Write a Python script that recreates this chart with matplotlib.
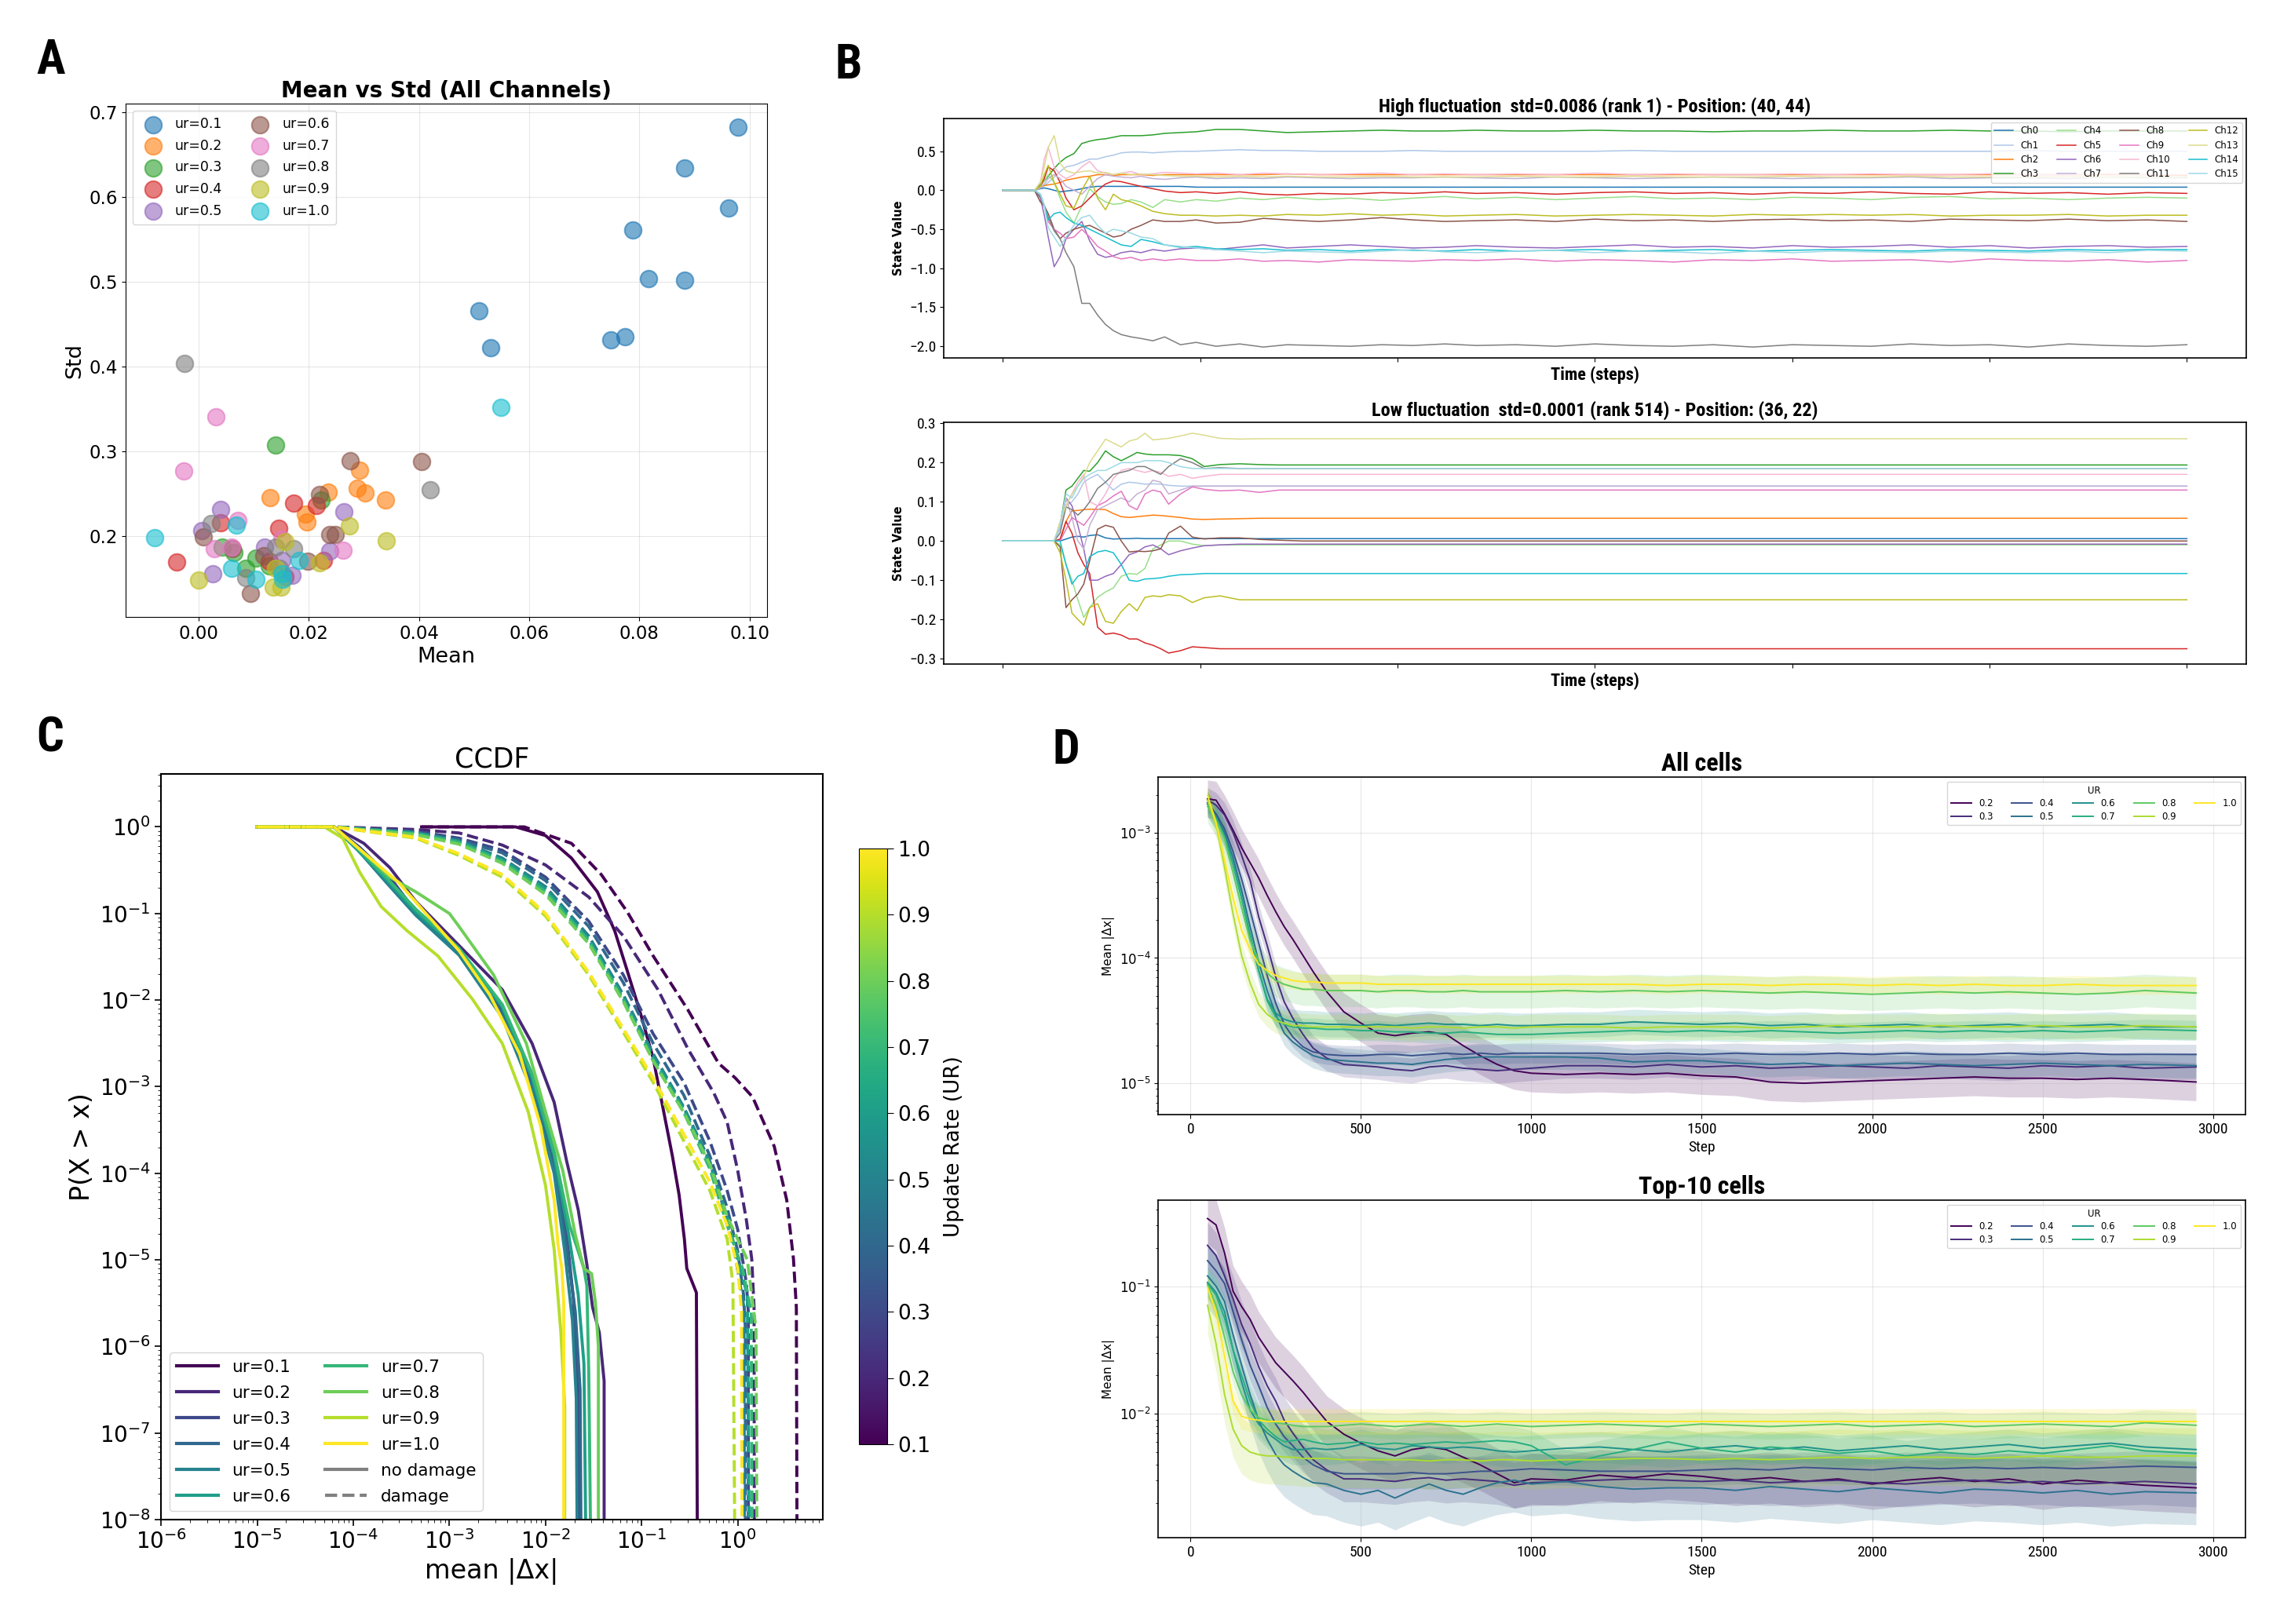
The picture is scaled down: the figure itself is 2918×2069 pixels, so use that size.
import numpy as np
import matplotlib
matplotlib.use("Agg")
import matplotlib.pyplot as plt
from matplotlib import font_manager
from matplotlib.colors import Normalize
from matplotlib.cm import ScalarMappable
from matplotlib.lines import Line2D

# pick a narrow face that also has a bold cut (panels B and D use squeezed type)
def _wt(w):
    if isinstance(w, (int, float)):
        return int(w)
    return font_manager.weight_dict.get(str(w).lower(), 400)

_weights = {}
for f in font_manager.fontManager.ttflist:
    if "Narrow" in f.name or "Condensed" in f.name:
        _weights.setdefault(f.name, set()).add(_wt(f.weight))
_ok = [n for n, w in _weights.items() if max(w) >= 700 and min(w) <= 500]
_pref = ["Liberation Sans Narrow", "DejaVu Sans Condensed", "Roboto Condensed",
         "Open Sans Condensed", "Noto Sans Condensed"]
_ok.sort(key=lambda n: (_pref.index(n) if n in _pref else 99, n))
NARROW = _ok[0] if _ok else "DejaVu Sans"
HAVE_NARROW = bool(_ok)
NFAM = [NARROW, "DejaVu Sans"]

# ---------------- panel A : mean vs std per channel ----------------
SC_LABELS = ["ur=0.1", "ur=0.2", "ur=0.3", "ur=0.4", "ur=0.5",
             "ur=0.6", "ur=0.7", "ur=0.8", "ur=0.9", "ur=1.0"]
SC_MEAN = [
    [0.0979, 0.0883, 0.0962, 0.0788, 0.0817, 0.0882, 0.0509, 0.0530, 0.0748, 0.0774],
    [0.0292, 0.0288, 0.0302, 0.0339, 0.0235, 0.0130, 0.0194, 0.0197],
    [0.0139, 0.0222, 0.0043, 0.0064, 0.0104, 0.0085, 0.0128],
    [0.0173, 0.0213, 0.0040, 0.0145, -0.0040, 0.0227, 0.0156, 0.0128],
    [0.0039, 0.0264, 0.0005, 0.0025, 0.0120, 0.0238, 0.0170, 0.0151],
    [0.0275, 0.0404, 0.0220, 0.0238, 0.0248, 0.0009, 0.0061, 0.0118, 0.0094, 0.0198],
    [0.0031, -0.0028, 0.0262, 0.0071, 0.0028, 0.0059, 0.0151],
    [-0.0026, 0.0421, 0.0023, 0.0172, 0.0139, 0.0085, 0.0146],
    [0.0274, 0.0340, 0.0000, 0.0156, 0.0219, 0.0135, 0.0150, 0.0139],
    [0.0549, -0.0080, 0.0068, 0.0060, 0.0182, 0.0104, 0.0151, 0.0153],
]
SC_STD = [
    [0.683, 0.635, 0.587, 0.561, 0.504, 0.502, 0.466, 0.422, 0.432, 0.435],
    [0.278, 0.256, 0.251, 0.243, 0.252, 0.245, 0.226, 0.217],
    [0.307, 0.243, 0.187, 0.180, 0.174, 0.162, 0.165],
    [0.239, 0.236, 0.216, 0.209, 0.169, 0.171, 0.152, 0.170],
    [0.231, 0.229, 0.206, 0.155, 0.187, 0.182, 0.154, 0.171],
    [0.289, 0.288, 0.249, 0.202, 0.202, 0.199, 0.185, 0.177, 0.132, 0.170],
    [0.341, 0.277, 0.183, 0.218, 0.185, 0.187, 0.196],
    [0.404, 0.255, 0.215, 0.185, 0.187, 0.151, 0.162],
    [0.212, 0.194, 0.148, 0.193, 0.168, 0.140, 0.140, 0.162],
    [0.352, 0.198, 0.213, 0.162, 0.171, 0.149, 0.155, 0.149],
]

# ---------------- panel B : channel traces ----------------
CH_NAMES = ["Ch%d" % i for i in range(16)]
CH_COLORS = ["#1f77b4", "#aec7e8", "#ff7f0e", "#2ca02c", "#98df8a", "#d62728",
             "#9467bd", "#c5b0d5", "#8c564b", "#e377c2", "#f7b6d2", "#7f7f7f",
             "#bcbd22", "#dbdb8d", "#17becf", "#9edae5"]

T_HI = [0, 80, 95, 105, 115, 130, 145, 160, 180, 200,
        220, 240, 260, 280, 300, 325, 350, 380, 410, 450,
        490, 540, 600, 660, 720, 800, 880, 960, 1040, 1120,
        1200, 1300, 1400, 1500, 1600, 1700, 1800, 1900, 2000, 2100,
        2200, 2300, 2400, 2500, 2600, 2700, 2800, 2900, 3000]
HI_VALUES = [
    [0, 0, 0.02, 0.03, 0.02, 0.0, -0.02, -0.01, 0.0, 0.02,
     0.04, 0.05, 0.05, 0.05, 0.05, 0.05, 0.05, 0.05, 0.05, 0.05,
     0.04, 0.04, 0.04, 0.04, 0.04, 0.04, 0.04, 0.04, 0.04, 0.04,
     0.04, 0.04, 0.04, 0.04, 0.04, 0.04, 0.04, 0.04, 0.04, 0.04,
     0.04, 0.04, 0.04, 0.04, 0.04, 0.04, 0.04, 0.04, 0.04],
    [0, 0, 0.03, 0.06, 0.1, 0.17, 0.24, 0.3, 0.32, 0.36,
     0.4, 0.4, 0.43, 0.45, 0.48, 0.49, 0.49, 0.48, 0.49, 0.5,
     0.5, 0.51, 0.52, 0.51, 0.51, 0.5, 0.5, 0.5, 0.51, 0.5,
     0.5, 0.5, 0.5, 0.5, 0.51, 0.5, 0.5, 0.5, 0.5, 0.5,
     0.5, 0.5, 0.5, 0.5, 0.51, 0.5, 0.5, 0.5, 0.5],
    [0, 0, 0.04, 0.06, 0.07, 0.08, 0.1, 0.13, 0.15, 0.17,
     0.18, 0.2, 0.2, 0.19, 0.2, 0.2, 0.2, 0.19, 0.2, 0.2,
     0.2, 0.2, 0.2, 0.2, 0.21, 0.2, 0.2, 0.2, 0.2, 0.2,
     0.2, 0.2, 0.2, 0.2, 0.2, 0.2, 0.2, 0.2, 0.2, 0.2,
     0.2, 0.2, 0.2, 0.2, 0.2, 0.2, 0.2, 0.2, 0.19],
    [0, 0, 0.08, 0.12, 0.18, 0.28, 0.36, 0.42, 0.47, 0.6,
     0.63, 0.65, 0.66, 0.68, 0.70, 0.70, 0.70, 0.71, 0.73, 0.74,
     0.75, 0.78, 0.78, 0.76, 0.74, 0.75, 0.76, 0.77, 0.76, 0.76,
     0.77, 0.76, 0.76, 0.77, 0.76, 0.76, 0.75, 0.76, 0.76, 0.77,
     0.76, 0.76, 0.77, 0.76, 0.76, 0.75, 0.76, 0.76, 0.76],
    [0, 0, 0.05, 0.12, 0.2, 0.1, -0.1, -0.28, -0.42, -0.2,
     0.02, -0.08, -0.15, -0.18, -0.17, -0.12, -0.15, -0.22, -0.12, -0.15,
     -0.12, -0.14, -0.1, -0.12, -0.09, -0.12, -0.1, -0.13, -0.1, -0.08,
     -0.11, -0.09, -0.12, -0.1, -0.08, -0.11, -0.1, -0.12, -0.09, -0.1,
     -0.12, -0.09, -0.08, -0.11, -0.1, -0.12, -0.1, -0.09, -0.1],
    [0, 0, 0.05, 0.15, 0.3, 0.25, 0.1, -0.1, -0.25, -0.2,
     -0.1, 0.0, 0.08, 0.12, 0.11, 0.08, 0.05, 0.02, -0.01, -0.03,
     -0.02, -0.04, -0.02, -0.05, -0.06, -0.04, -0.05, -0.03, -0.04, -0.02,
     -0.04, -0.03, -0.05, -0.03, -0.02, -0.04, -0.03, -0.05, -0.03, -0.04,
     -0.02, -0.04, -0.05, -0.02, -0.04, -0.03, -0.05, -0.03, -0.04],
    [0, 0, -0.1, -0.32, -0.6, -0.98, -0.85, -0.62, -0.5, -0.4,
     -0.65, -0.82, -0.86, -0.84, -0.8, -0.78, -0.8, -0.76, -0.78, -0.75,
     -0.74, -0.76, -0.73, -0.7, -0.74, -0.72, -0.7, -0.72, -0.74, -0.73,
     -0.71, -0.73, -0.74, -0.72, -0.7, -0.73, -0.72, -0.74, -0.71, -0.73,
     -0.72, -0.7, -0.73, -0.71, -0.74, -0.72, -0.71, -0.73, -0.72],
    [0, 0, 0.03, 0.08, 0.15, 0.2, 0.15, 0.05, 0.0, -0.05,
     0.05, 0.15, 0.2, 0.18, 0.17, 0.16, 0.18, 0.15, 0.14, 0.16,
     0.17, 0.15, 0.16, 0.15, 0.17, 0.16, 0.15, 0.16, 0.16, 0.17,
     0.16, 0.15, 0.17, 0.16, 0.15, 0.16, 0.17, 0.16, 0.15, 0.16,
     0.16, 0.17, 0.15, 0.16, 0.16, 0.15, 0.17, 0.16, 0.16],
    [0, 0, -0.15, -0.2, -0.3, -0.5, -0.62, -0.55, -0.5, -0.47,
     -0.45, -0.5, -0.55, -0.6, -0.58, -0.5, -0.45, -0.38, -0.4, -0.4,
     -0.38, -0.42, -0.41, -0.36, -0.38, -0.4, -0.38, -0.35, -0.38, -0.4,
     -0.39, -0.38, -0.4, -0.37, -0.39, -0.38, -0.4, -0.38, -0.37, -0.39,
     -0.38, -0.4, -0.37, -0.38, -0.39, -0.37, -0.39, -0.38, -0.4],
    [0, 0, -0.05, -0.2, -0.4, -0.5, -0.55, -0.62, -0.6, -0.5,
     -0.6, -0.72, -0.78, -0.85, -0.88, -0.86, -0.9, -0.88, -0.9, -0.88,
     -0.9, -0.9, -0.88, -0.91, -0.9, -0.92, -0.89, -0.9, -0.91, -0.89,
     -0.9, -0.88, -0.91, -0.89, -0.9, -0.92, -0.89, -0.9, -0.88, -0.91,
     -0.9, -0.89, -0.92, -0.88, -0.9, -0.91, -0.89, -0.92, -0.9],
    [0, 0, 0.1, 0.4, 0.55, 0.3, 0.2, 0.15, 0.2, 0.3,
     0.37, 0.25, 0.22, 0.2, 0.22, 0.24, 0.2, 0.21, 0.23, 0.22,
     0.21, 0.22, 0.2, 0.22, 0.21, 0.2, 0.21, 0.22, 0.2, 0.21,
     0.2, 0.21, 0.2, 0.22, 0.2, 0.21, 0.2, 0.2, 0.21, 0.2,
     0.21, 0.2, 0.2, 0.21, 0.2, 0.2, 0.21, 0.2, 0.2],
    [0, 0, -0.08, -0.2, -0.35, -0.52, -0.62, -0.8, -0.98, -1.45,
     -1.45, -1.6, -1.72, -1.8, -1.85, -1.88, -1.9, -1.93, -1.88, -1.98,
     -1.95, -2.0, -1.97, -2.01, -1.98, -1.99, -2.0, -1.98, -1.99, -1.97,
     -1.99, -1.98, -2.0, -1.97, -1.99, -2.0, -1.98, -2.01, -1.98, -1.99,
     -2.0, -1.97, -1.99, -1.98, -2.01, -1.97, -1.99, -2.0, -1.98],
    [0, 0, 0.05, 0.2, 0.32, 0.1, -0.05, -0.2, -0.23, 0.0,
     0.18, -0.1, -0.25, -0.05, -0.12, -0.15, -0.2, -0.27, -0.3, -0.32,
     -0.32, -0.33, -0.32, -0.33, -0.31, -0.32, -0.3, -0.32, -0.31, -0.33,
     -0.32, -0.31, -0.33, -0.32, -0.31, -0.32, -0.33, -0.31, -0.32, -0.31,
     -0.32, -0.31, -0.33, -0.32, -0.32, -0.31, -0.33, -0.32, -0.32],
    [0, 0, 0.1, 0.3, 0.55, 0.7, 0.35, 0.25, 0.22, 0.24,
     0.25, 0.22, 0.23, 0.2, 0.22, 0.2, 0.21, 0.2, 0.19, 0.18,
     0.18, 0.17, 0.18, 0.17, 0.18, 0.17, 0.17, 0.18, 0.17, 0.17,
     0.17, 0.18, 0.17, 0.17, 0.18, 0.17, 0.17, 0.17, 0.18, 0.17,
     0.17, 0.18, 0.17, 0.17, 0.17, 0.18, 0.17, 0.17, 0.17],
    [0, 0, -0.05, -0.2, -0.38, -0.3, -0.28, -0.35, -0.42, -0.45,
     -0.5, -0.55, -0.6, -0.65, -0.7, -0.72, -0.63, -0.66, -0.7, -0.73,
     -0.72, -0.75, -0.76, -0.75, -0.77, -0.76, -0.78, -0.76, -0.77, -0.78,
     -0.76, -0.78, -0.77, -0.76, -0.78, -0.77, -0.76, -0.78, -0.77, -0.76,
     -0.77, -0.78, -0.76, -0.77, -0.78, -0.76, -0.77, -0.76, -0.76],
    [0, 0, -0.05, -0.2, -0.48, -0.6, -0.72, -0.6, -0.45, -0.35,
     -0.32, -0.45, -0.55, -0.5, -0.52, -0.55, -0.6, -0.62, -0.7, -0.72,
     -0.74, -0.76, -0.78, -0.8, -0.78, -0.79, -0.8, -0.78, -0.76, -0.79,
     -0.8, -0.78, -0.77, -0.8, -0.78, -0.79, -0.81, -0.78, -0.8, -0.78,
     -0.79, -0.8, -0.78, -0.79, -0.8, -0.78, -0.8, -0.77, -0.78],
]

T_LO = [0, 130, 145, 160, 175, 190, 205, 220, 240, 260,
        280, 300, 320, 340, 360, 380, 400, 420, 450, 480,
        510, 550, 600, 650, 700, 760, 820, 900, 1000, 1100,
        2000, 3000]
LO_VALUES = [
    [0, 0, 0.0, 0.005, 0.01, 0.012, 0.01, 0.014, 0.016, 0.008,
     0.005, 0.006, 0.006, 0.007, 0.006, 0.006, 0.006, 0.006, 0.006, 0.006,
     0.006, 0.006, 0.006, 0.006, 0.006, 0.006, 0.006, 0.006, 0.006, 0.006,
     0.006, 0.006],
    [0, 0, 0.03, 0.09, 0.1, 0.12, 0.15, 0.16, 0.17, 0.15,
     0.13, 0.145, 0.15, 0.148, 0.145, 0.146, 0.145, 0.142, 0.14, 0.14,
     0.14, 0.14, 0.14, 0.14, 0.14, 0.14, 0.14, 0.14, 0.14, 0.14,
     0.14, 0.14],
    [0, 0, 0.0, 0.05, 0.077, 0.078, 0.08, 0.081, 0.081, 0.08,
     0.07, 0.062, 0.06, 0.062, 0.064, 0.066, 0.065, 0.063, 0.06, 0.056,
     0.055, 0.056, 0.057, 0.058, 0.058, 0.058, 0.058, 0.058, 0.058, 0.058,
     0.058, 0.058],
    [0, 0, 0.04, 0.13, 0.14, 0.16, 0.18, 0.178, 0.2, 0.23,
     0.215, 0.205, 0.215, 0.226, 0.222, 0.22, 0.22, 0.22, 0.218, 0.21,
     0.19, 0.195, 0.197, 0.195, 0.194, 0.194, 0.194, 0.194, 0.194, 0.194,
     0.194, 0.194],
    [0, 0, -0.01, -0.06, -0.1, -0.15, -0.195, -0.17, -0.144, -0.13,
     -0.12, -0.09, -0.083, -0.085, -0.07, -0.02, -0.01, 0.0, 0.0, -0.008,
     -0.012, -0.01, -0.01, -0.01, -0.01, -0.01, -0.01, -0.01, -0.01, -0.01,
     -0.01, -0.01],
    [0, 0, 0.005, 0.05, 0.02, -0.03, -0.06, -0.083, -0.22, -0.238,
     -0.235, -0.24, -0.25, -0.25, -0.26, -0.266, -0.275, -0.286, -0.28, -0.27,
     -0.272, -0.275, -0.275, -0.275, -0.275, -0.275, -0.275, -0.275, -0.275, -0.275,
     -0.275, -0.275],
    [0, 0, 0.04, 0.11, 0.09, 0.04, -0.02, -0.1, -0.1, -0.09,
     -0.083, -0.06, -0.035, -0.028, -0.015, -0.01, -0.02, -0.035, -0.025, -0.018,
     -0.012, -0.01, -0.008, -0.008, -0.008, -0.008, -0.008, -0.008, -0.008, -0.008,
     -0.008, -0.008],
    [0, 0, 0.04, 0.11, 0.06, 0.0, -0.02, 0.04, 0.08, 0.09,
     0.1, 0.11, 0.1, 0.12, 0.13, 0.155, 0.15, 0.12, 0.13, 0.14,
     0.14, 0.14, 0.14, 0.14, 0.14, 0.14, 0.14, 0.14, 0.14, 0.14,
     0.14, 0.14],
    [0, 0, -0.015, -0.17, -0.15, -0.135, -0.11, -0.05, 0.03, 0.04,
     0.035, 0.0, -0.028, -0.026, -0.027, -0.025, -0.02, 0.02, 0.038, 0.01,
     0.005, 0.008, 0.008, 0.004, 0.002, 0.0, 0.0, 0.0, 0.0, 0.0,
     0.0, 0.0],
    [0, 0, 0.0, 0.03, 0.06, 0.05, 0.04, 0.06, 0.09, 0.1,
     0.115, 0.127, 0.09, 0.08, 0.12, 0.13, 0.125, 0.094, 0.12, 0.138,
     0.132, 0.128, 0.13, 0.124, 0.13, 0.13, 0.13, 0.13, 0.13, 0.13,
     0.13, 0.13],
    [0, 0, 0.04, 0.09, 0.12, 0.15, 0.17, 0.1, 0.09, 0.12,
     0.16, 0.18, 0.185, 0.18, 0.175, 0.18, 0.175, 0.165, 0.17, 0.16,
     0.165, 0.17, 0.17, 0.17, 0.17, 0.17, 0.17, 0.17, 0.17, 0.17,
     0.17, 0.17],
    [0, 0, 0.02, 0.087, 0.08, 0.066, 0.08, 0.1, 0.134, 0.15,
     0.17, 0.175, 0.18, 0.19, 0.19, 0.18, 0.17, 0.19, 0.21, 0.2,
     0.185, 0.187, 0.185, 0.185, 0.185, 0.185, 0.185, 0.185, 0.185, 0.185,
     0.185, 0.185],
    [0, 0, -0.03, -0.1, -0.184, -0.2, -0.215, -0.17, -0.16, -0.205,
     -0.21, -0.18, -0.16, -0.178, -0.144, -0.14, -0.142, -0.137, -0.14, -0.157,
     -0.145, -0.14, -0.15, -0.15, -0.15, -0.15, -0.15, -0.15, -0.15, -0.15,
     -0.15, -0.15],
    [0, 0, 0.05, 0.09, 0.12, 0.14, 0.165, 0.2, 0.23, 0.26,
     0.25, 0.24, 0.255, 0.26, 0.275, 0.258, 0.26, 0.262, 0.268, 0.275,
     0.27, 0.262, 0.26, 0.261, 0.261, 0.261, 0.261, 0.261, 0.261, 0.261,
     0.261, 0.261],
    [0, 0, 0.0, -0.06, -0.11, -0.09, -0.083, -0.04, -0.028, -0.024,
     -0.03, -0.06, -0.1, -0.103, -0.097, -0.096, -0.094, -0.09, -0.086, -0.085,
     -0.083, -0.083, -0.083, -0.083, -0.083, -0.083, -0.083, -0.083, -0.083, -0.083,
     -0.083, -0.083],
    [0, 0, 0.04, 0.12, 0.11, 0.14, 0.16, 0.17, 0.18, 0.18,
     0.19, 0.2, 0.2, 0.2, 0.205, 0.205, 0.205, 0.2, 0.19, 0.185,
     0.185, 0.185, 0.185, 0.185, 0.185, 0.185, 0.185, 0.185, 0.185, 0.185,
     0.185, 0.185],
]

# ---------------- panel C : CCDF (log10 x, log10 y) ----------------
CCDF_UR = [0.1, 0.2, 0.3, 0.4, 0.5, 0.6, 0.7, 0.8, 0.9, 1.0]
CCDF_NODMG = [
    [(-3.29, 0), (-2.31, 0), (-2.0, -0.1), (-1.73, -0.36), (-1.46, -0.75), (-1.28, -1.2),
     (-1.15, -1.66), (-1.01, -2.16), (-0.88, -2.67), (-0.77, -3.29), (-0.68, -3.8),
     (-0.61, -4.25), (-0.555, -4.76), (-0.53, -5.1), (-0.43, -5.38), (-0.42, -8.3)],
    [(-5, 0), (-4.2, 0), (-3.89, -0.19), (-3.62, -0.47), (-3.35, -0.86), (-2.9, -1.37),
     (-2.45, -1.88), (-2.14, -2.5), (-1.91, -3.18), (-1.78, -3.86), (-1.66, -4.42),
     (-1.57, -5.05), (-1.51, -5.55), (-1.44, -5.84), (-1.39, -6.4), (-1.39, -8.3)],
    [(-5, 0), (-4.2, 0), (-3.93, -0.24), (-3.62, -0.58), (-3.35, -0.98), (-2.9, -1.43),
     (-2.45, -2.11), (-2.14, -2.95), (-1.91, -3.86), (-1.78, -4.71), (-1.71, -5.44),
     (-1.66, -6.68), (-1.66, -8.3)],
    [(-5, 0), (-4.2, 0), (-3.95, -0.25), (-3.65, -0.62), (-3.35, -1.0), (-2.9, -1.45),
     (-2.45, -2.15), (-2.14, -3.0), (-1.91, -3.95), (-1.78, -4.85), (-1.69, -5.6),
     (-1.64, -6.5), (-1.63, -8.3)],
    [(-5, 0), (-4.2, 0), (-3.95, -0.27), (-3.65, -0.65), (-3.35, -1.02), (-2.9, -1.48),
     (-2.45, -2.2), (-2.14, -3.05), (-1.91, -4.0), (-1.8, -4.9), (-1.72, -5.7),
     (-1.68, -6.6), (-1.67, -8.3)],
    [(-5, 0), (-4.2, 0), (-3.97, -0.25), (-3.66, -0.6), (-3.35, -0.98), (-2.9, -1.42),
     (-2.45, -2.08), (-2.14, -2.9), (-1.91, -3.8), (-1.76, -4.7), (-1.66, -5.4),
     (-1.6, -6.2), (-1.58, -8.3)],
    [(-5, 0), (-4.2, 0), (-3.97, -0.23), (-3.66, -0.58), (-3.35, -0.95), (-2.9, -1.4),
     (-2.45, -2.05), (-2.14, -2.85), (-1.91, -3.75), (-1.75, -4.6), (-1.6, -5.1),
     (-1.57, -5.3), (-1.55, -6.3), (-1.53, -8.3)],
    [(-5, 0), (-4.2, 0), (-3.89, -0.3), (-3.62, -0.58), (-3.35, -0.75), (-3.0, -1.0),
     (-2.9, -1.15), (-2.54, -1.71), (-2.2, -2.5), (-2.0, -3.29), (-1.82, -3.97),
     (-1.69, -4.71), (-1.6, -5.1), (-1.52, -5.16), (-1.48, -5.5), (-1.45, -6.0), (-1.45, -8.3)],
    [(-5, 0), (-4.3, 0), (-4.11, -0.13), (-3.93, -0.53), (-3.71, -0.92), (-3.44, -1.2),
     (-3.12, -1.49), (-2.76, -1.99), (-2.45, -2.5), (-2.18, -3.29), (-2.0, -4.14),
     (-1.91, -4.88), (-1.84, -5.84), (-1.8, -6.68), (-1.8, -8.3)],
    [(-5, 0), (-4.2, 0), (-3.89, -0.3), (-3.53, -0.64), (-3.26, -0.98), (-2.9, -1.43),
     (-2.58, -1.94), (-2.27, -2.62), (-2.05, -3.46), (-1.91, -4.31), (-1.87, -4.82),
     (-1.83, -5.1), (-1.81, -5.5), (-1.81, -8.3)],
]
CCDF_DMG = [
    [(-3.29, 0), (-2.22, 0), (-1.73, -0.19), (-1.42, -0.55), (-1.15, -0.98), (-0.88, -1.49),
     (-0.52, -2.11), (-0.2, -2.73), (-0.025, -2.9), (0.155, -3.12), (0.38, -3.69),
     (0.51, -4.31), (0.58, -4.99), (0.61, -5.55), (0.617, -8.3)],
    [(-5, 0), (-4.2, 0), (-3.35, -0.03), (-2.9, -0.07), (-2.45, -0.21), (-2.0, -0.44),
     (-1.55, -0.81), (-1.19, -1.26), (-0.83, -1.88), (-0.52, -2.56), (-0.25, -3.07),
     (-0.11, -3.41), (0.0, -3.97), (0.09, -4.54), (0.146, -4.99), (0.17, -5.55), (0.173, -8.3)],
    [(-5, 0), (-4.2, 0), (-3.35, -0.05), (-2.9, -0.13), (-2.45, -0.27), (-2.0, -0.58),
     (-1.55, -1.09), (-1.19, -1.71), (-0.88, -2.39), (-0.56, -2.95), (-0.29, -3.63),
     (-0.11, -4.2), (0.0, -4.65), (0.09, -5.27), (0.11, -5.6), (0.11, -8.3)],
    [(-5, 0), (-4.2, 0), (-3.35, -0.06), (-2.9, -0.15), (-2.45, -0.3), (-2.0, -0.62),
     (-1.55, -1.15), (-1.19, -1.8), (-0.88, -2.5), (-0.56, -3.1), (-0.29, -3.8),
     (-0.11, -4.4), (0.0, -4.9), (0.06, -5.4), (0.08, -5.8), (0.08, -8.3)],
    [(-5, 0), (-4.2, 0), (-3.35, -0.07), (-2.9, -0.16), (-2.45, -0.36), (-2.0, -0.69),
     (-1.55, -1.26), (-1.19, -1.94), (-0.88, -2.62), (-0.56, -3.24), (-0.29, -3.86),
     (-0.11, -4.54), (-0.02, -4.99), (0.065, -5.55), (0.07, -8.3)],
    [(-5, 0), (-4.2, 0), (-3.35, -0.07), (-2.9, -0.17), (-2.45, -0.38), (-2.0, -0.72),
     (-1.55, -1.3), (-1.19, -1.98), (-0.88, -2.66), (-0.56, -3.26), (-0.29, -3.9),
     (-0.11, -4.5), (0.0, -5.0), (0.1, -5.4), (0.12, -8.3)],
    [(-5, 0), (-4.2, 0), (-3.35, -0.08), (-2.9, -0.18), (-2.45, -0.4), (-2.0, -0.75),
     (-1.55, -1.32), (-1.19, -2.0), (-0.88, -2.7), (-0.56, -3.3), (-0.29, -3.95),
     (-0.11, -4.6), (0.05, -5.1), (0.14, -5.6), (0.15, -8.3)],
    [(-5, 0), (-4.2, 0), (-3.35, -0.09), (-2.9, -0.2), (-2.45, -0.42), (-2.0, -0.78),
     (-1.55, -1.35), (-1.19, -2.02), (-0.88, -2.7), (-0.56, -3.3), (-0.29, -3.9),
     (-0.11, -4.5), (0.1, -5.0), (0.19, -5.8), (0.2, -8.3)],
    [(-5, 0), (-4.2, 0), (-3.35, -0.13), (-2.9, -0.33), (-2.45, -0.58), (-2.0, -1.03),
     (-1.55, -1.71), (-1.24, -2.28), (-0.88, -2.95), (-0.56, -3.63), (-0.29, -4.2),
     (-0.11, -4.76), (-0.05, -5.27), (-0.03, -8.3)],
    [(-5, 0), (-4.2, 0), (-3.35, -0.12), (-2.9, -0.31), (-2.45, -0.55), (-2.0, -1.0),
     (-1.55, -1.68), (-1.24, -2.24), (-0.88, -2.9), (-0.56, -3.55), (-0.29, -4.1),
     (-0.11, -4.6), (0.0, -5.1), (0.04, -5.6), (0.045, -8.3)],
]
CBAR_TICKS = [0.1, 0.2, 0.3, 0.4, 0.5, 0.6, 0.7, 0.8, 0.9, 1.0]

# ---------------- panel D : mean |dx| over steps (log10 values) ----------------
D_UR = ["0.2", "0.3", "0.4", "0.5", "0.6", "0.7", "0.8", "0.9", "1.0"]
T_D = [50, 75, 100, 125, 150, 175, 200, 225, 250, 275,
       300, 330, 360, 400, 450, 500, 550, 600, 650, 700,
       750, 800, 850, 900, 950, 1000, 1100, 1200, 1300, 1400,
       1500, 1600, 1700, 1800, 1900, 2000, 2100, 2200, 2300, 2400,
       2500, 2600, 2700, 2800, 2950]
ALL_LOG = [
    [-2.73, -2.74, -2.85, -2.98, -3.12, -3.24, -3.36, -3.50, -3.63, -3.75,
     -3.85, -3.98, -4.11, -4.27, -4.43, -4.52, -4.60, -4.62, -4.60, -4.59,
     -4.61, -4.70, -4.78, -4.85, -4.90, -4.92, -4.93, -4.92, -4.93, -4.92,
     -4.94, -4.95, -4.99, -5.00, -4.99, -4.98, -4.97, -4.96, -4.95, -4.96,
     -4.96, -4.97, -4.96, -4.97, -4.99],
    [-2.74, -2.78, -2.86, -3.00, -3.18, -3.38, -3.67, -3.90, -4.15, -4.35,
     -4.48, -4.61, -4.72, -4.80, -4.85, -4.86, -4.87, -4.89, -4.90, -4.87,
     -4.86, -4.88, -4.89, -4.90, -4.89, -4.88, -4.86, -4.86, -4.87, -4.85,
     -4.87, -4.86, -4.88, -4.87, -4.86, -4.87, -4.88, -4.86, -4.87, -4.88,
     -4.86, -4.87, -4.86, -4.88, -4.87],
    [-2.76, -2.85, -2.97, -3.15, -3.37, -3.62, -3.88, -4.14, -4.36, -4.53,
     -4.63, -4.71, -4.75, -4.77, -4.78, -4.78, -4.77, -4.77, -4.78, -4.77,
     -4.76, -4.77, -4.76, -4.77, -4.76, -4.76, -4.76, -4.76, -4.77, -4.76,
     -4.77, -4.76, -4.77, -4.77, -4.76, -4.77, -4.76, -4.77, -4.77, -4.76,
     -4.77, -4.76, -4.77, -4.77, -4.77],
    [-2.77, -2.87, -3.00, -3.20, -3.46, -3.75, -4.03, -4.26, -4.45, -4.60,
     -4.67, -4.73, -4.78, -4.81, -4.82, -4.83, -4.84, -4.84, -4.85, -4.83,
     -4.81, -4.80, -4.79, -4.79, -4.79, -4.79, -4.79, -4.80, -4.83, -4.82,
     -4.82, -4.84, -4.85, -4.84, -4.86, -4.85, -4.84, -4.85, -4.86, -4.85,
     -4.84, -4.85, -4.86, -4.85, -4.86],
    [-2.77, -2.88, -3.03, -3.25, -3.52, -3.82, -4.10, -4.33, -4.44, -4.49,
     -4.51, -4.52, -4.52, -4.53, -4.53, -4.54, -4.53, -4.54, -4.53, -4.52,
     -4.53, -4.53, -4.54, -4.53, -4.54, -4.54, -4.53, -4.53, -4.51, -4.52,
     -4.53, -4.52, -4.54, -4.53, -4.55, -4.54, -4.53, -4.55, -4.54, -4.53,
     -4.55, -4.54, -4.53, -4.55, -4.55],
    [-2.77, -2.88, -3.03, -3.25, -3.52, -3.82, -4.10, -4.34, -4.47, -4.53,
     -4.55, -4.56, -4.56, -4.57, -4.57, -4.58, -4.58, -4.59, -4.59, -4.60,
     -4.60, -4.59, -4.60, -4.61, -4.61, -4.61, -4.60, -4.59, -4.58, -4.59,
     -4.58, -4.59, -4.58, -4.59, -4.60, -4.59, -4.58, -4.59, -4.58, -4.59,
     -4.58, -4.59, -4.58, -4.57, -4.58],
    [-2.79, -2.90, -3.05, -3.32, -3.60, -3.86, -4.02, -4.12, -4.18, -4.21,
     -4.23, -4.25, -4.25, -4.26, -4.26, -4.26, -4.27, -4.26, -4.26, -4.27,
     -4.27, -4.26, -4.27, -4.27, -4.27, -4.27, -4.26, -4.27, -4.26, -4.27,
     -4.26, -4.27, -4.28, -4.27, -4.28, -4.29, -4.28, -4.27, -4.28, -4.27,
     -4.28, -4.29, -4.28, -4.26, -4.28],
    [-2.74, -2.93, -3.28, -3.65, -3.98, -4.20, -4.37, -4.45, -4.50, -4.52,
     -4.54, -4.54, -4.55, -4.55, -4.55, -4.55, -4.55, -4.55, -4.56, -4.55,
     -4.55, -4.56, -4.55, -4.55, -4.56, -4.55, -4.55, -4.55, -4.56, -4.55,
     -4.55, -4.55, -4.56, -4.55, -4.54, -4.55, -4.55, -4.54, -4.55, -4.55,
     -4.54, -4.55, -4.55, -4.54, -4.55],
    [-2.70, -2.92, -3.22, -3.52, -3.78, -3.93, -4.05, -4.10, -4.14, -4.16,
     -4.18, -4.19, -4.19, -4.20, -4.20, -4.20, -4.21, -4.21, -4.21, -4.21,
     -4.21, -4.21, -4.21, -4.21, -4.21, -4.21, -4.21, -4.21, -4.21, -4.22,
     -4.21, -4.21, -4.22, -4.21, -4.21, -4.22, -4.21, -4.22, -4.21, -4.22,
     -4.22, -4.21, -4.22, -4.22, -4.22],
]
TOP10_LOG = [
    [-0.47, -0.52, -0.74, -1.04, -1.16, -1.26, -1.40, -1.50, -1.60, -1.67,
     -1.74, -1.83, -1.93, -2.06, -2.16, -2.23, -2.29, -2.33, -2.28, -2.26,
     -2.28, -2.34, -2.40, -2.47, -2.54, -2.51, -2.52, -2.48, -2.50, -2.47,
     -2.49, -2.52, -2.50, -2.53, -2.51, -2.55, -2.52, -2.50, -2.53, -2.51,
     -2.55, -2.52, -2.54, -2.56, -2.58],
    [-0.68, -0.76, -0.92, -1.10, -1.30, -1.45, -1.63, -1.78, -1.90, -2.05,
     -2.15, -2.26, -2.36, -2.44, -2.51, -2.51, -2.52, -2.53, -2.51, -2.50,
     -2.52, -2.51, -2.52, -2.53, -2.56, -2.54, -2.53, -2.52, -2.51, -2.52,
     -2.53, -2.52, -2.54, -2.53, -2.52, -2.54, -2.55, -2.53, -2.52, -2.54,
     -2.53, -2.55, -2.54, -2.53, -2.55],
    [-0.80, -0.88, -0.98, -1.20, -1.42, -1.62, -1.78, -1.95, -2.08, -2.18,
     -2.25, -2.34, -2.40, -2.45, -2.47, -2.47, -2.47, -2.47, -2.46, -2.47,
     -2.47, -2.46, -2.45, -2.45, -2.44, -2.43, -2.44, -2.45, -2.45, -2.45,
     -2.44, -2.43, -2.44, -2.42, -2.43, -2.44, -2.42, -2.43, -2.42, -2.43,
     -2.42, -2.43, -2.42, -2.41, -2.42],
    [-0.92, -1.00, -1.12, -1.38, -1.62, -1.85, -2.05, -2.20, -2.32, -2.40,
     -2.45, -2.50, -2.54, -2.55, -2.60, -2.63, -2.60, -2.66, -2.60, -2.55,
     -2.60, -2.63, -2.58, -2.54, -2.52, -2.55, -2.53, -2.57, -2.59, -2.58,
     -2.58, -2.60, -2.57, -2.59, -2.61, -2.58, -2.60, -2.62, -2.59, -2.60,
     -2.62, -2.60, -2.63, -2.61, -2.62],
    [-0.97, -1.05, -1.20, -1.50, -1.75, -1.97, -2.08, -2.15, -2.20, -2.25,
     -2.28, -2.28, -2.27, -2.28, -2.27, -2.24, -2.27, -2.28, -2.25, -2.26,
     -2.27, -2.26, -2.27, -2.29, -2.30, -2.29, -2.27, -2.26, -2.28, -2.30,
     -2.27, -2.25, -2.28, -2.26, -2.29, -2.27, -2.25, -2.28, -2.26, -2.24,
     -2.27, -2.25, -2.23, -2.26, -2.28],
    [-0.98, -1.07, -1.25, -1.50, -1.70, -1.90, -2.05, -2.12, -2.18, -2.22,
     -2.21, -2.20, -2.22, -2.24, -2.23, -2.22, -2.24, -2.23, -2.24, -2.23,
     -2.22, -2.23, -2.22, -2.21, -2.22, -2.25, -2.40, -2.33, -2.28, -2.22,
     -2.27, -2.30, -2.26, -2.28, -2.31, -2.29, -2.33, -2.30, -2.32, -2.29,
     -2.31, -2.28, -2.25, -2.29, -2.31],
    [-0.99, -1.15, -1.40, -1.67, -1.85, -1.97, -2.03, -2.05, -2.07, -2.08,
     -2.09, -2.10, -2.10, -2.10, -2.09, -2.08, -2.09, -2.10, -2.09, -2.08,
     -2.09, -2.10, -2.09, -2.08, -2.09, -2.10, -2.09, -2.08, -2.09, -2.10,
     -2.08, -2.09, -2.10, -2.09, -2.08, -2.10, -2.09, -2.08, -2.10, -2.09,
     -2.08, -2.09, -2.10, -2.07, -2.09],
    [-1.15, -1.45, -1.85, -2.12, -2.25, -2.30, -2.32, -2.33, -2.33, -2.34,
     -2.34, -2.35, -2.35, -2.35, -2.36, -2.36, -2.36, -2.36, -2.36, -2.37,
     -2.36, -2.36, -2.37, -2.36, -2.36, -2.37, -2.36, -2.36, -2.35, -2.35,
     -2.36, -2.35, -2.36, -2.35, -2.34, -2.35, -2.34, -2.34, -2.35, -2.34,
     -2.33, -2.34, -2.34, -2.33, -2.33],
    [-1.01, -1.20, -1.55, -1.90, -2.02, -2.04, -2.05, -2.06, -2.06, -2.06,
     -2.06, -2.06, -2.06, -2.06, -2.06, -2.06, -2.06, -2.06, -2.06, -2.06,
     -2.06, -2.06, -2.06, -2.06, -2.06, -2.06, -2.06, -2.06, -2.06, -2.06,
     -2.06, -2.06, -2.06, -2.06, -2.06, -2.06, -2.06, -2.06, -2.06, -2.06,
     -2.06, -2.06, -2.06, -2.06, -2.06],
]
# half-width of the shaded spread, in decades
BAND_ALL = [0.15, 0.10, 0.08, 0.10, 0.10, 0.08, 0.13, 0.10, 0.07]
BAND_TOP10 = [0.20, 0.18, 0.12, 0.25, 0.12, 0.12, 0.10, 0.22, 0.10]
D_XTICKS = [0, 500, 1000, 1500, 2000, 2500, 3000]

# =====================================================================
fig = plt.figure(figsize=(29.18, 20.69), dpi=100)

def panel_letter(x, y, s):
    fig.text(x, y, s, fontsize=44, fontweight="bold", family=NFAM,
             va="baseline", ha="left")

panel_letter(0.0158, 0.9546, "A")
panel_letter(0.3646, 0.9517, "B")
panel_letter(0.0158, 0.5370, "C")
panel_letter(0.4595, 0.5297, "D")

# ---------------- A ----------------
axA = fig.add_axes([0.0548, 0.6201, 0.2800, 0.3161])
tab = plt.get_cmap("tab10")
for i, lab in enumerate(SC_LABELS):
    axA.scatter(SC_MEAN[i], SC_STD[i], s=240, color=tab(i), alpha=0.6,
                linewidths=1.5, label=lab, zorder=3)
axA.grid(True, alpha=0.3, zorder=0)
axA.set_title("Mean vs Std (All Channels)", fontsize=20, fontweight="bold")
axA.set_xlabel("Mean", fontsize=19.5)
axA.set_ylabel("Std", fontsize=19.5)
axA.tick_params(labelsize=16.5)
axA.legend(loc="upper left", ncol=2, fontsize=12.5, framealpha=0.8,
           borderpad=0.5, labelspacing=0.55, handletextpad=0.6, columnspacing=1.8)

# ---------------- B ----------------
def trace_panel(rect, t, values, title, show_legend):
    ax = fig.add_axes(rect)
    for i in range(16):
        ax.plot(t, values[i], color=CH_COLORS[i], lw=1.1, label=CH_NAMES[i])
    ax.set_title(title, fontsize=17.5 if HAVE_NARROW else 13.5, fontweight="bold",
                 family=NFAM)
    ax.set_xlabel("Time (steps)", fontsize=16, fontweight="bold",
                  family=NFAM, labelpad=4)
    ax.set_ylabel("State Value", fontsize=10.5, fontweight="bold")
    ax.set_xticks(D_XTICKS)
    ax.tick_params(axis="x", labelbottom=False)
    ax.tick_params(axis="y", labelsize=14)
    for lab in ax.get_yticklabels():
        lab.set_family(NFAM)
    for sp in ax.spines.values():
        sp.set_linewidth(1.2)
    if show_legend:
        ax.legend(loc="upper right", ncol=4, fontsize=8.5, handlelength=2.0,
                  columnspacing=2.0, labelspacing=0.45, borderaxespad=0.4)
    return ax

axB1 = trace_panel([0.4119, 0.7796, 0.5685, 0.1474], T_HI, HI_VALUES,
                   "High fluctuation  std=0.0086 (rank 1) - Position: (40, 44)", True)
axB2 = trace_panel([0.4119, 0.5911, 0.5685, 0.1489], T_LO, LO_VALUES,
                   "Low fluctuation  std=0.0001 (rank 514) - Position: (36, 22)", False)

# ---------------- C ----------------
axC = fig.add_axes([0.0703, 0.0643, 0.2889, 0.4592])
norm = Normalize(vmin=0.1, vmax=1.0)
cmap = plt.get_cmap("viridis")
for i, ur in enumerate(CCDF_UR):
    pts = np.array(CCDF_NODMG[i])
    axC.plot(10 ** pts[:, 0], 10 ** pts[:, 1], color=cmap(norm(ur)), lw=2.8, ls="-")
for i, ur in enumerate(CCDF_UR):
    pts = np.array(CCDF_DMG[i])
    axC.plot(10 ** pts[:, 0], 10 ** pts[:, 1], color=cmap(norm(ur)), lw=2.8, ls="--")
axC.set_xscale("log")
axC.set_yscale("log")
axC.set_xlim(1e-6, 7.7)
axC.set_ylim(1e-8, 4.1)
axC.set_title("CCDF", fontsize=25)
axC.set_xlabel("mean |Δx|", fontsize=24)
axC.set_ylabel("P(X > x)", fontsize=24)
axC.tick_params(labelsize=20)
axC.tick_params(which="major", length=6, width=1.2)
axC.tick_params(which="minor", length=3)
for sp in axC.spines.values():
    sp.set_linewidth(1.5)
handles = [Line2D([], [], color=cmap(norm(ur)), lw=3) for ur in CCDF_UR]
labels = ["ur=%.1f" % ur for ur in CCDF_UR]
handles += [Line2D([], [], color="gray", lw=3, ls="-"),
            Line2D([], [], color="gray", lw=3, ls="--")]
labels += ["no damage", "damage"]
axC.legend(handles, labels, loc="lower left", ncol=2, fontsize=15.5,
           handlelength=2.5, labelspacing=0.6, columnspacing=2.0)

cax = fig.add_axes([0.3749, 0.1107, 0.01234, 0.3668])
cb = fig.colorbar(ScalarMappable(norm=norm, cmap=cmap), cax=cax)
cb.set_ticks(CBAR_TICKS)
cb.ax.tick_params(labelsize=19, length=6)
cb.set_label("Update Rate (UR)", fontsize=19, labelpad=12)

# ---------------- D ----------------
def d_panel(rect, logs, bands, title, ylim):
    ax = fig.add_axes(rect)
    cols = plt.get_cmap("viridis")(np.linspace(0, 1, len(D_UR)))
    for i, ur in enumerate(D_UR):
        m = np.array(logs[i])
        ax.fill_between(T_D, 10 ** (m - bands[i]), 10 ** (m + bands[i]),
                        color=cols[i], alpha=0.18, lw=0)
        ax.plot(T_D, 10 ** m, color=cols[i], lw=1.4, label=ur)
    ax.set_yscale("log")
    ax.set_ylim(*ylim)
    ax.set_xticks(D_XTICKS)
    ax.grid(True, alpha=0.3)
    ax.set_title(title, fontsize=23 if HAVE_NARROW else 19, fontweight="bold",
                 family=NFAM)
    ax.set_xlabel("Step", fontsize=14, family=NFAM)
    ax.set_ylabel("Mean |Δx|", fontsize=11)
    ax.tick_params(labelsize=12)
    for lab in ax.get_xticklabels():
        lab.set_family(NFAM)
        lab.set_fontsize(14)
    for sp in ax.spines.values():
        sp.set_linewidth(1.2)
    ax.legend(title="UR", loc="upper right", ncol=5, fontsize=8.5, title_fontsize=8.5,
              handlelength=2.2, labelspacing=0.3, columnspacing=2.0)
    return ax

axD1 = d_panel([0.5055, 0.3137, 0.4746, 0.2078], ALL_LOG, BAND_ALL, "All cells",
               (10 ** -5.25, 10 ** -2.556))
axD2 = d_panel([0.5055, 0.0532, 0.4746, 0.2078], TOP10_LOG, BAND_TOP10, "Top-10 cells",
               (10 ** -2.97, 10 ** -0.326))

fig.savefig("out.png", dpi=100)
